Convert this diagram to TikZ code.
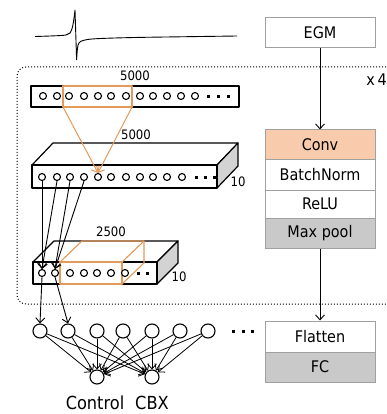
\documentclass[tikz,border=0pt]{standalone}
\usepackage{fontspec}
\setmainfont{DejaVu Sans Condensed}
\usetikzlibrary{arrows.meta}
\definecolor{orangeln}{HTML}{E39A5A}
\definecolor{convfill}{HTML}{F8CBAD}
\definecolor{grayfill}{HTML}{C9C9C9}
\definecolor{sidefill}{HTML}{D3D3D3}
\definecolor{boxline}{HTML}{A0A0A0}
\begin{document}
\begin{tikzpicture}[x=1pt,y=-1pt,
  layer/.style={draw=boxline, line width=1pt, minimum width=110pt, inner sep=0pt, font=\fontsize{16}{16}\selectfont},
  sc/.style={circle, draw, line width=1.1pt, minimum size=7pt, inner sep=0pt},
  bc/.style={circle, draw, line width=1.1pt, minimum size=14pt, inner sep=0pt},
  arr/.style={-{Straight Barb[length=5pt,width=9pt]}, line width=0.9pt},
  oarr/.style={-{Straight Barb[length=5pt,width=9pt]}, line width=1pt, draw=orangeln},
  num/.style={font=\fontsize{13}{13}\selectfont, inner sep=0pt},
  dotsq/.style={fill, rectangle, minimum size=3pt, inner sep=0pt},
  boxedge/.style={line width=1.2pt, line join=round},
  oedge/.style={line width=1.1pt, draw=orangeln, line join=round}]
\useasboundingbox (0,0) rectangle (387,414);

% waveform
\draw[line width=0.9pt, line join=round]
  plot[smooth, tension=0.6] coordinates {(35,36.5)(55,35.8)(66,35)(70,33)(72.5,27)(74,18)(75,10)}
  -- (76.6,60)
  plot[smooth, tension=0.6] coordinates {(76.6,60)(77.5,48)(79,43)(83,40.5)(95,38.8)(130,37.6)(180,36.8)(237,36)};

% dotted repeat frame
\draw[dotted, line width=1pt, rounded corners=9pt] (395,67) -- (17,67) -- (17,304) -- (395,304);
\node[font=\fontsize{16}{16}\selectfont, anchor=east, inner sep=0pt] (x4) at (387,80) {x\,4};

% right column
\node[layer, minimum height=30pt] (egm) at (320,33) {EGM};
\node[layer, minimum height=29pt, fill=convfill] (conv) at (320,144.5) {Conv};
\node[layer, minimum height=31pt] (bn) at (320,174.5) {BatchNorm};
\node[layer, minimum height=28pt] (relu) at (320,204) {ReLU};
\node[layer, minimum height=30pt, fill=grayfill] (mp) at (320,233) {Max pool};
\node[layer, minimum height=31pt] (flat) at (320,336.5) {Flatten};
\node[layer, minimum height=30pt, fill=grayfill] (fc) at (320,367) {FC};
\draw[arr] (egm) -- (conv);
\draw[arr] (mp) -- (flat);

% strip 1 (input)
\draw[boxedge] (31,86) rectangle (239,107);
\node[num] (n5000a) at (135,76) {5000};
\foreach \x [count=\i] in {43,57,69,84,98,111,126,140,153,167,181,195}
  \node[sc] (a\i) at (\x,96) {};
\foreach \x [count=\i] in {208,218,228}
  \node[dotsq] (ad\i) at (\x,96.5) {};
\draw[oedge] (63,86) rectangle (132,107);
\coordinate (ol) at (63,107);
\coordinate (or) at (132,107);

% strip 2 (3D)
\filldraw[boxedge, fill=white] (32,165) -- (53,143) -- (238,143) -- (217,165) -- cycle;
\filldraw[boxedge, fill=sidefill] (217,165) -- (238,143) -- (238,166) -- (217,188) -- cycle;
\draw[boxedge] (32,165) rectangle (217,188);
\node[num] (n5000b) at (136,135) {5000};
\node[num] (ten1) at (238,182) {10};
\foreach \x [count=\i] in {42,57,70,84,98,111,126,140,153,167,182}
  \node[sc] (b\i) at (\x,177) {};
\foreach \x [count=\i] in {196,205,214}
  \node[dotsq] (bd\i) at (\x,177.5) {};
\draw[oarr] (ol) -- (b5.north);
\draw[oarr] (or) -- (b5.north);

% strip 3 (3D)
\filldraw[boxedge, fill=white] (33,262) -- (54,241) -- (178,241) -- (157,262) -- cycle;
\filldraw[boxedge, fill=sidefill] (157,262) -- (178,241) -- (178,263) -- (157,284) -- cycle;
\draw[boxedge] (33,262) rectangle (157,284);
\node[num] (n2500) at (111,232) {2500};
\node[num] (ten2) at (179,277) {10};
\draw[oedge] (60,262) rectangle (122,284);
\draw[oedge] (60,262) -- (82,241) -- (144,241) -- (144,263) -- (122,284);
\draw[oedge] (122,262) -- (144,241);
\foreach \x [count=\i] in {42,55,70,84,97,111,125}
  \node[sc, fill=white] (c\i) at (\x,273) {};
\foreach \x [count=\i] in {138,147}
  \node[dotsq] (cd\i) at (\x,273.5) {};

\draw[arr] (b1.south) -- (c1.north);
\draw[arr] (b2.south) -- (c1.north);
\draw[arr] (b3.south) -- (c2.north);
\draw[arr] (b4.south) -- (c2.north);

% dense layer
\foreach \x [count=\i] in {40,68,97,123,152,180,208}
  \node[bc] (d\i) at (\x,331) {};
\foreach \x [count=\i] in {233,243,252}
  \node[dotsq] (dd\i) at (\x,331) {};
\node[bc] (o1) at (97,377) {};
\node[bc] (o2) at (152,377) {};
\draw[arr] (c1.south) -- (d1.north);
\draw[arr] (c2.south) -- (d2.north);
\foreach \i in {1,...,7}{
  \draw[arr, line width=0.8pt] (d\i) -- (o1);
  \draw[arr, line width=0.8pt] (d\i) -- (o2);
}
\node[font=\fontsize{18}{18}\selectfont, inner sep=0pt] (lc) at (95,403) {Control};
\node[font=\fontsize{18}{18}\selectfont, inner sep=0pt] (lx) at (152,403) {CBX};
\end{tikzpicture}
\end{document}
